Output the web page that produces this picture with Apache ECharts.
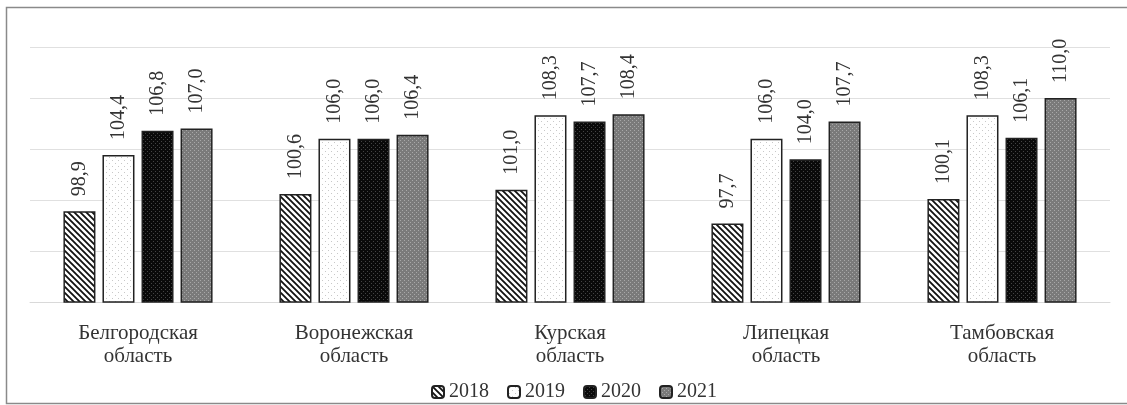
<!DOCTYPE html>
<html><head><meta charset="utf-8">
<script src="https://cdn.jsdelivr.net/npm/echarts@6/dist/echarts.min.js"></script>
<style>html,body{margin:0;padding:0;background:#fff}#c{width:1127px;height:405px}</style>
</head><body><div id="c"></div>
<script>
const categories = ['Белгородская\nобласть','Воронежская\nобласть','Курская\nобласть','Липецкая\nобласть','Тамбовская\nобласть'];
const years = ['2018','2019','2020','2021'];
const v2018 = [98.9, 100.6, 101.0, 97.7, 100.1];
const v2019 = [104.4, 106.0, 108.3, 106.0, 108.3];
const v2020 = [106.8, 106.0, 107.7, 104.0, 106.1];
const v2021 = [107.0, 106.4, 108.4, 107.7, 110.0];
const seriesValues = [v2018, v2019, v2020, v2021];

function mk(size, draw){const c=document.createElement('canvas');c.width=size;c.height=size;const g=c.getContext('2d');draw(g,size);return c;}
const pHatch = mk(6,(g,s)=>{g.fillStyle='#fff';g.fillRect(0,0,s,s);g.strokeStyle='#111';g.lineWidth=1.8;
  g.beginPath();g.moveTo(-2,-2);g.lineTo(s+2,s+2);g.moveTo(-2,s-2);g.lineTo(2,s+2);g.moveTo(s-2,-2);g.lineTo(s+2,2);g.stroke();});
const pDotW = mk(6,(g,s)=>{g.fillStyle='#fff';g.fillRect(0,0,s,s);g.fillStyle='#c8c8c8';g.fillRect(1,1,1,1);g.fillRect(4,4,1,1);});
const pDotB = mk(4,(g,s)=>{g.fillStyle='#0a0a0a';g.fillRect(0,0,s,s);g.fillStyle='#444';g.fillRect(1,1,1,1);g.fillRect(3,3,1,1);});
const pDotG = mk(4,(g,s)=>{g.fillStyle='#7a7a7a';g.fillRect(0,0,s,s);g.fillStyle='#a8a8a8';g.fillRect(0,0,1,1);g.fillRect(2,2,1,1);});
const patterns = [pHatch,pDotW,pDotB,pDotG];

const chart = echarts.init(document.getElementById('c'));
const font = 'Liberation Serif, serif';
chart.setOption({
  animation:false,
  backgroundColor:'#fff',
  graphic:[{type:'rect',shape:{x:6.5,y:7.5,width:1130,height:396},style:{fill:'none',stroke:'#8a8a8a',lineWidth:1.5},z:100}],
  grid:{left:30,right:17,top:47,bottom:103},
  legend:{top:377,left:426,itemWidth:12,itemHeight:12,itemGap:18,
    textStyle:{fontFamily:font,fontSize:20,color:'#333',padding:[0,0,0,0]},
    data:years},
  xAxis:{type:'category',data:categories,axisTick:{show:false},
    axisLine:{lineStyle:{color:'#d9d9d9'}},
    axisLabel:{fontFamily:font,fontSize:21,color:'#333',lineHeight:23,margin:20,interval:0}},
  yAxis:{type:'value',min:90,max:115,interval:5,axisLabel:{show:false},
    splitLine:{lineStyle:{color:'#e0e0e0'}}},
  series: years.map((y,i)=>({
    name:y,type:'bar',data:seriesValues[i],barWidth:32,barGap:'22%',
    itemStyle:{color:{image:patterns[i],repeat:'repeat'},borderColor:'#222',borderWidth:1.5},
    label:{show:true,position:'top',rotate:90,align:'left',verticalAlign:'middle',distance:15,
      fontFamily:font,fontSize:20,color:'#333',
      formatter:p=>p.value.toFixed(1).replace('.',',')}
  }))
});
</script></body></html>
